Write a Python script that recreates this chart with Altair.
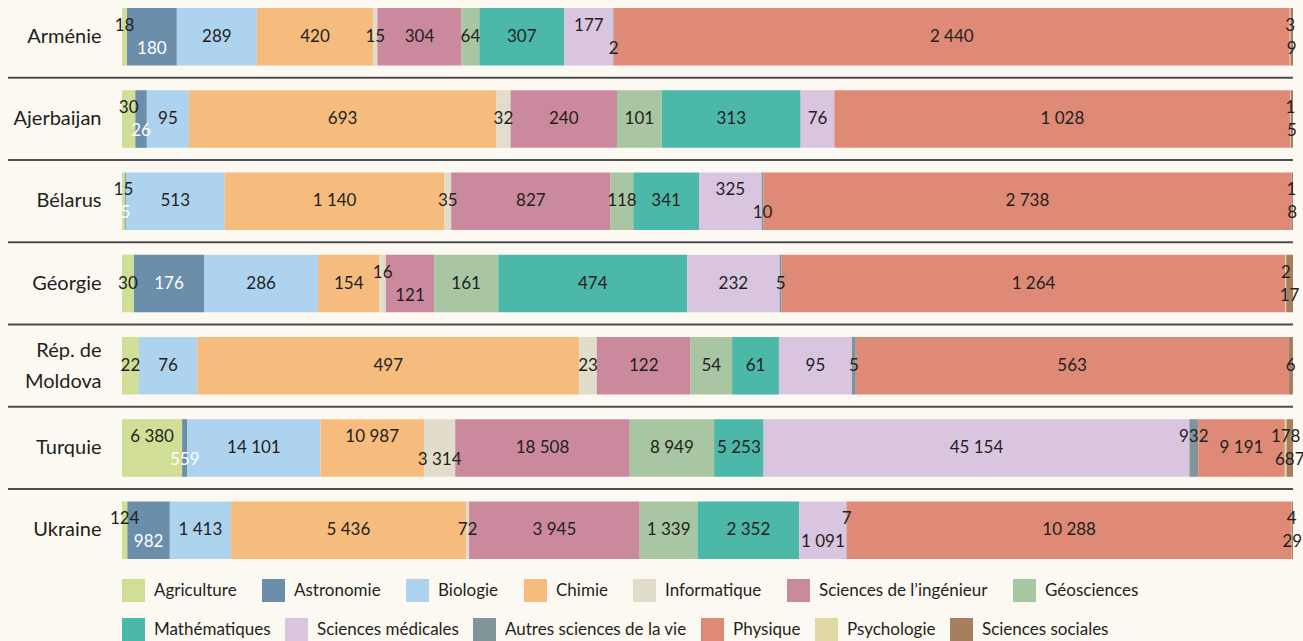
import altair as alt
import pandas as pd

FONT = "Lato"
INK = "#231f20"
BG = "#fcf9f2"

countries = ["Arménie", "Ajerbaijan", "Bélarus", "Géorgie", "Rép. de Moldova", "Turquie", "Ukraine"]

categories = [
    "Agriculture", "Astronomie", "Biologie", "Chimie", "Informatique",
    "Sciences de l\u2019ingénieur", "Géosciences", "Mathématiques",
    "Sciences médicales", "Autres sciences de la vie", "Physique",
    "Psychologie", "Sciences sociales",
]
colors = [
    "#d0df95", "#6b8eab", "#aed3ef", "#f5bc7e", "#e2dccb",
    "#cb899e", "#a8c6a2", "#4cb8aa", "#dac5e0", "#7f9598",
    "#de8a77", "#e2d8a4", "#a6805e",
]

# one list per field, in the order of `countries`
agriculture = [18, 30, 15, 30, 22, 6380, 124]
astronomie = [180, 26, 5, 176, 0, 559, 982]
biologie = [289, 95, 513, 286, 76, 14101, 1413]
chimie = [420, 693, 1140, 154, 497, 10987, 5436]
informatique = [15, 32, 35, 16, 23, 3314, 72]
ingenieur = [304, 240, 827, 121, 122, 18508, 3945]
geosciences = [64, 101, 118, 161, 54, 8949, 1339]
mathematiques = [307, 313, 341, 474, 61, 5253, 2352]
medicales = [177, 76, 325, 232, 95, 45154, 1091]
autres_vie = [2, 0, 10, 5, 5, 932, 7]
physique = [2440, 1028, 2738, 1264, 563, 9191, 10288]
psychologie = [3, 1, 1, 2, 0, 178, 4]
sociales = [9, 5, 8, 17, 6, 687, 29]

series = [agriculture, astronomie, biologie, chimie, informatique, ingenieur,
          geosciences, mathematiques, medicales, autres_vie, physique,
          psychologie, sociales]

# labels of narrow segments are lifted above or dropped below the middle line
ING = "Sciences de l\u2019ingénieur"
raised = {
    ("Arménie", "Agriculture"), ("Arménie", "Sciences médicales"), ("Arménie", "Psychologie"),
    ("Ajerbaijan", "Agriculture"), ("Ajerbaijan", "Psychologie"),
    ("Bélarus", "Agriculture"), ("Bélarus", "Sciences médicales"), ("Bélarus", "Psychologie"),
    ("Géorgie", "Informatique"), ("Géorgie", "Psychologie"),
    ("Turquie", "Agriculture"), ("Turquie", "Chimie"), ("Turquie", "Autres sciences de la vie"),
    ("Turquie", "Psychologie"),
    ("Ukraine", "Agriculture"), ("Ukraine", "Autres sciences de la vie"), ("Ukraine", "Psychologie"),
}
lowered = {
    ("Arménie", "Astronomie"), ("Arménie", "Autres sciences de la vie"), ("Arménie", "Sciences sociales"),
    ("Ajerbaijan", "Astronomie"), ("Ajerbaijan", "Sciences sociales"),
    ("Bélarus", "Astronomie"), ("Bélarus", "Autres sciences de la vie"), ("Bélarus", "Sciences sociales"),
    ("Géorgie", ING), ("Géorgie", "Sciences sociales"),
    ("Turquie", "Astronomie"), ("Turquie", "Informatique"), ("Turquie", "Sciences sociales"),
    ("Ukraine", "Astronomie"), ("Ukraine", "Sciences médicales"), ("Ukraine", "Sciences sociales"),
}


def fmt(v):
    return f"{v:,}".replace(",", "\u00a0")


rows = []
for ci, (cat, vals) in enumerate(zip(categories, series)):
    for country, v in zip(countries, vals):
        key = (country, cat)
        place = "top" if key in raised else ("bottom" if key in lowered else "mid")
        rows.append(dict(country=country, category=cat, order=ci, value=v,
                         label=fmt(v), place=place))
df = pd.DataFrame(rows)

W, H = 1171, 551

x_scale = alt.Scale(domain=[0, 1], nice=False, zero=False)
y_scale = alt.Scale(paddingInner=0.3, paddingOuter=0)
y_axis = alt.Axis(
    title=None, domain=False, ticks=False, labelPadding=21,
    labelFontSize=20, labelFont=FONT, labelColor=INK, labelLineHeight=31,
    labelOffset={"condition": {"test": "datum.value == 'Rép. de Moldova'", "value": -15},
                 "value": 0},
    labelExpr="datum.label == 'Rép. de Moldova' ? ['Rép. de', 'Moldova'] : datum.label",
)
y_enc = alt.Y("country:N", sort=countries, scale=y_scale, axis=y_axis)

base = alt.Chart(df).transform_stack(
    stack="value", groupby=["country"], as_=["x0", "x1"], offset="normalize",
    sort=[alt.SortField("order", order="ascending")],
)


def bar_group(cats, cols, legend_y, col_pad):
    # each legend row is its own legend, fed by its own slice of the bars
    return base.transform_filter(alt.FieldOneOfPredicate(field="category", oneOf=cats)).mark_bar().encode(
        x=alt.X("x0:Q", scale=x_scale, axis=None),
        x2="x1:Q",
        y=y_enc,
        color=alt.Color(
            "category:N",
            scale=alt.Scale(domain=cats, range=cols),
            legend=alt.Legend(
                title=None, orient="none", legendX=0, legendY=legend_y,
                direction="horizontal", columns=len(cats),
                symbolType="square", symbolSize=529, symbolStrokeWidth=0,
                symbolOpacity=1, labelFontSize=17, labelFont=FONT,
                labelColor=INK, labelOffset=9, columnPadding=col_pad,
                padding=0, labelLimit=400,
            ),
        ),
    )


bars_a = bar_group(categories[:7], colors[:7], 571, 25)
bars_b = bar_group(categories[7:], colors[7:], 610, 14)


def value_labels(place, dy):
    return (
        base.transform_filter(alt.datum.value > 0)
        .transform_filter(alt.datum.place == place)
        .transform_calculate(mid="(datum.x0 + datum.x1) / 2")
        .mark_text(dy=dy, fontSize=17, font=FONT, baseline="middle")
        .encode(
            x=alt.X("mid:Q", scale=x_scale, axis=None),
            y=y_enc,
            text="label:N",
            color=alt.condition(alt.datum.category == "Astronomie",
                                alt.value("white"), alt.value(INK)),
        )
    )


separators = (
    alt.Chart(pd.DataFrame({"country": countries[:-1]}))
    .mark_rule(color="#4d4d4d", strokeWidth=2, yOffset=41)
    .encode(
        y=alt.Y("country:N", sort=countries, scale=y_scale, axis=y_axis),
        x=alt.value(-114),
        x2=alt.value(W),
    )
)

chart = (
    alt.layer(
        separators, bars_a, bars_b,
        value_labels("mid", 0), value_labels("top", -11), value_labels("bottom", 12),
    )
    .resolve_scale(color="independent")
    .properties(
        width=W, height=H,
        padding={"left": 122, "top": 8, "right": 10, "bottom": 82},
        autosize=alt.AutoSizeParams(type="none"),
    )
    .configure(background=BG)
    .configure_view(stroke=None)
)

chart.save("out.html", embed_options={"renderer": "svg", "actions": False})
